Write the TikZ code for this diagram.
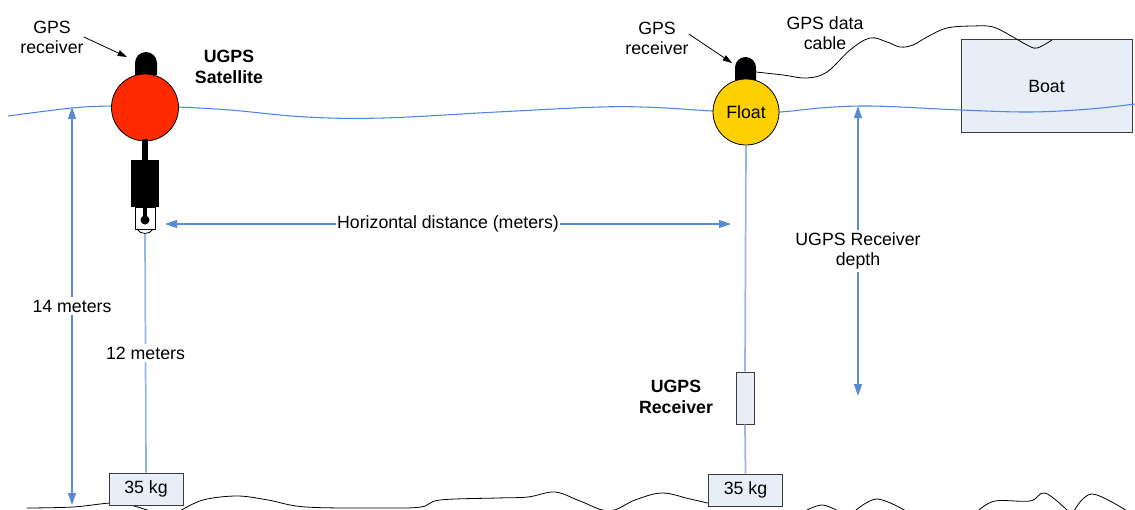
\documentclass[tikz,border=0pt]{standalone}
\usepackage{fontspec}
\setmainfont{Liberation Sans}
\usetikzlibrary{arrows.meta}

\definecolor{buoyred}{RGB}{255,42,0}
\definecolor{floatyellow}{RGB}{255,208,0}
\definecolor{boxfill}{RGB}{232,238,247}
\definecolor{boxline}{RGB}{60,60,60}
\definecolor{watercol}{RGB}{74,134,232}
\definecolor{dimcol}{RGB}{88,140,208}
\definecolor{cordcol}{RGB}{150,184,230}

\begin{document}
\begin{tikzpicture}[x=0.75pt,y=-0.75pt,
  font=\fontsize{13.3}{15}\selectfont,
  water/.style={draw=watercol, line width=0.8pt},
  seabed/.style={draw=black, line width=0.6pt},
  cable/.style={draw=black, line width=0.6pt},
  cord/.style={draw=cordcol, line width=1.3pt},
  dim/.style={draw=dimcol, line width=0.9pt,
    {Triangle[length=9pt,width=6pt]}-{Triangle[length=9pt,width=6pt]}},
  callout/.style={draw=black, line width=0.6pt, -{Triangle[length=7pt,width=4.5pt]}},
  txt/.style={align=center, inner sep=0pt},
  gaptxt/.style={fill=white, align=center, inner xsep=1pt, inner ysep=2pt},
  boxstyle/.style={draw=boxline, fill=boxfill, line width=0.75pt, inner sep=0pt},
  weight/.style={boxstyle, minimum width=55.5pt, minimum height=24pt},
  buoy/.style={circle, draw=black, line width=0.6pt, inner sep=0pt}
]
\useasboundingbox (0,0) rectangle (1135,510);

% boat at the surface
\node[boxstyle, minimum width=128.25pt, minimum height=69pt] (boat) at (1046.5,86) {Boat};

% sea surface
\draw[water] plot[smooth, tension=0.6] coordinates {
  (8,116) (72,108) (111,106) (145,106) (178,107) (230,110) (306,117)
  (383,118) (497,112) (600,107) (655,107.5) (712,111) (746,112) (780,112)
  (820,108) (860,106) (900,107) (961,110) (1030,112) (1090,109) (1135,104)};

% sea bed
\draw[seabed] plot[smooth, tension=0.6] coordinates {
  (27,508) (73,507) (111,503) (130,505) (150,511)};
\draw[seabed] plot[smooth, tension=0.6] coordinates {
  (180,511) (203,500) (237,496) (268,500) (306,507) (383,508) (421,507)
  (440,500) (497,498) (528,497) (555,492) (580,501) (609,511) (635,500)
  (662,493) (690,499) (712,504)};
\draw[seabed] plot[smooth, tension=0.6] coordinates {
  (805,511) (822,505) (838,511)};
\draw[seabed] plot[smooth, tension=0.6] coordinates {
  (855,511) (877,499) (906,511)};
\draw[seabed] plot[smooth, tension=0.6] coordinates {
  (978,511) (995,501) (1030,501) (1045,493) (1068,511)};
\draw[seabed] plot[smooth, tension=0.6] coordinates {
  (1074,511) (1092,494) (1127,511)};

% buoys
\fill (135,75) -- (135,63) arc[start angle=180, end angle=360, radius=11] -- (157,75) -- cycle;
\node[buoy, fill=buoyred, minimum size=50.25pt] (sat) at (145,107.5) {};
\fill (735,80) -- (735,67.5) arc[start angle=180, end angle=360, radius=10.5] -- (756,80) -- cycle;
\node[buoy, fill=floatyellow, minimum size=49.5pt] (floatb) at (746,112) {Float};

% transducer hanging below the satellite buoy
\fill (142,139) rectangle (148,161);
\fill (131,160) rectangle (159,207);
\draw[fill=white, line width=0.6pt] (135,207) rectangle (155,229);
\draw[line width=3pt] (145,207) -- (145,219);
\fill (145,220) circle[radius=4.5];
\draw[line width=0.6pt] (137,229) .. controls (140,235) and (150,235) .. (153,229);
\coordinate (satbot) at (145,234);

% receiver and anchor weights
\node[boxstyle, minimum width=13.5pt, minimum height=39pt] (rcv) at (745,398) {};
\node[weight] (wL) at (146,489) {35 kg};
\node[weight] (wR) at (745.5,490) {35 kg};

% mooring lines
\draw[cord] (satbot) -- (wL.north) node[gaptxt, midway] {12 meters};
\draw[cord] (floatb.south) -- (rcv.north);
\draw[cord] (rcv.south) -- (wR.north);

% dimensions
\coordinate (hdL) at (165,224);
\coordinate (hdR) at (731,224);
\draw[dim] (hdL) -- (hdR) node[gaptxt, midway] {Horizontal distance (meters)};
\coordinate (dTop) at (72,107);
\coordinate (dBot) at (72,505);
\draw[dim] (dTop) -- (dBot) node[gaptxt, midway] {14 meters};
\coordinate (rTop) at (858,106);
\coordinate (rBot) at (858,396);
\draw[dim] (rTop) -- (rBot) node[gaptxt, midway] {UGPS Receiver\\depth};

% GPS data cable from the float to the boat
\draw[cable] plot[smooth, tension=0.6] coordinates {
  (756,72) (783,75) (807,78) (827,72) (850,50) (870,38) (887,42) (900,47)
  (913,45) (927,37) (947,28) (973,26) (993,27) (1013,37) (1027,45) (1037,48)
  (1052,40)};

% labels
\node[txt] (gpsL) at (52,37) {GPS\\receiver};
\coordinate (capL) at (127,57);
\draw[callout] (gpsL.east) -- (capL);
\node[txt] (gpsR) at (657,38) {GPS\\receiver};
\coordinate (capR) at (732,63);
\draw[callout] ([yshift=3pt]gpsR.east) -- (capR);
\node[txt, font=\fontsize{13.3}{15.75}\selectfont\bfseries] (satlbl) at (229,67) {UGPS\\Satellite};
\node[txt] (cablelbl) at (825,33) {GPS data\\cable};
\node[txt, font=\fontsize{13.3}{15.75}\selectfont\bfseries] (rcvlbl) at (676,397) {UGPS\\Receiver};

\end{tikzpicture}
\end{document}
